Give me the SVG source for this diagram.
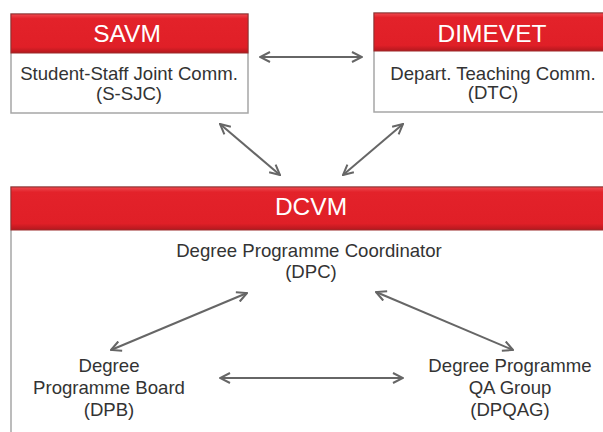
<svg xmlns="http://www.w3.org/2000/svg" width="603" height="432" viewBox="0 0 603 432">
  <style>
    .frame { fill: #ffffff; stroke: #a6a6a6; stroke-width: 1.5; }
    .head { fill: url(#redgrad); stroke: #9c2a2a; stroke-width: 1; }
    .htxt { font-family: "Liberation Sans", Arial, sans-serif; font-size: 24.5px; fill: #ffffff; text-anchor: middle; }
    .btxt { font-family: "Liberation Sans", Arial, sans-serif; font-size: 18.6px; fill: #333333; text-anchor: middle; }
    .conn { stroke: #666666; stroke-width: 2; fill: none; marker-start: url(#arr); marker-end: url(#arr); }
  </style>
  <defs>
    <linearGradient id="redgrad" x1="0" y1="0" x2="0" y2="1">
      <stop offset="0" stop-color="#ee4a50"/>
      <stop offset="0.12" stop-color="#e3222a"/>
      <stop offset="0.85" stop-color="#e01f27"/>
      <stop offset="1" stop-color="#b3181e"/>
    </linearGradient>
    <marker id="arr" viewBox="0 0 12 12" refX="11" refY="6" markerWidth="12" markerHeight="12" markerUnits="userSpaceOnUse" orient="auto-start-reverse">
      <path d="M1,1 L11,6 L1,11" fill="none" stroke="#666666" stroke-width="2"/>
    </marker>
  </defs>

  <g id="savm">
    <rect class="frame" x="11" y="14" width="237" height="99"/>
    <rect class="head" x="11" y="14" width="237" height="39"/>
    <text class="htxt" x="127" y="42">SAVM</text>
    <text class="btxt" x="129" y="80">Student-Staff Joint Comm.</text>
    <text class="btxt" x="129" y="100">(S-SJC)</text>
  </g>

  <g id="dimevet">
    <rect class="frame" x="374" y="13" width="240" height="99"/>
    <rect class="head" x="374" y="13" width="240" height="38"/>
    <text class="htxt" x="492" y="42">DIMEVET</text>
    <text class="btxt" x="493" y="80">Depart. Teaching Comm.</text>
    <text class="btxt" x="493" y="99">(DTC)</text>
  </g>

  <g id="dcvm">
    <rect class="frame" x="11" y="187" width="600" height="260"/>
    <rect class="head" x="11" y="187" width="600" height="43"/>
    <text class="htxt" x="311" y="215">DCVM</text>
  </g>

  <g id="dpc">
    <text class="btxt" x="309" y="257">Degree Programme Coordinator</text>
    <text class="btxt" x="311" y="278">(DPC)</text>
  </g>

  <g id="dpb">
    <text class="btxt" x="109" y="372">Degree</text>
    <text class="btxt" x="109" y="394">Programme Board</text>
    <text class="btxt" x="109" y="416">(DPB)</text>
  </g>

  <g id="dpqag">
    <text class="btxt" x="510" y="372">Degree Programme</text>
    <text class="btxt" x="510" y="394">QA Group</text>
    <text class="btxt" x="510" y="416">(DPQAG)</text>
  </g>

  <g id="connectors">
    <line class="conn" x1="260" y1="57" x2="362" y2="57"/>
    <line class="conn" x1="220" y1="124" x2="280" y2="175"/>
    <line class="conn" x1="403" y1="124" x2="343" y2="175"/>
    <line class="conn" x1="247" y1="293" x2="111" y2="350"/>
    <line class="conn" x1="376" y1="292" x2="513" y2="350"/>
    <line class="conn" x1="220" y1="378" x2="403" y2="378"/>
  </g>
</svg>
